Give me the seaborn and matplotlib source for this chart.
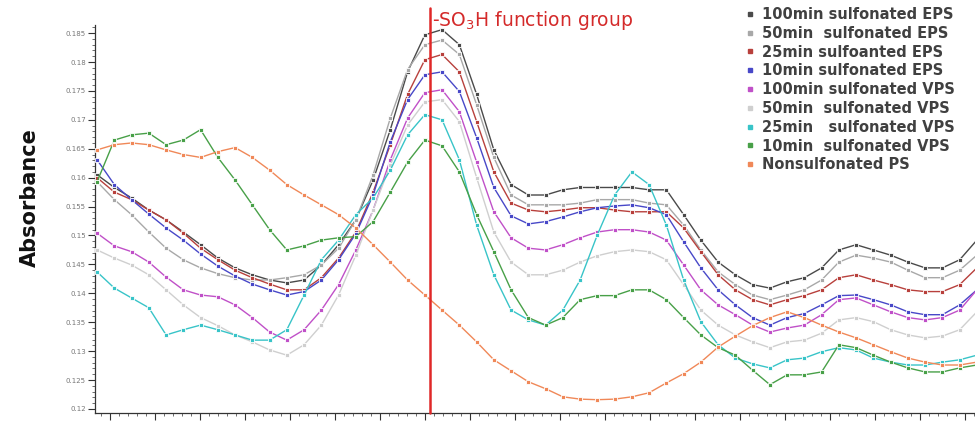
import matplotlib
matplotlib.use("Agg")
import matplotlib.pyplot as plt
from matplotlib.lines import Line2D
from matplotlib.ticker import MultipleLocator, FuncFormatter
import numpy as np
import pandas as pd
import seaborn as sns

# sampling grid of the spectrum (cm-1), one point per ~1.92 cm-1
wavenumber = np.round(998.56 + 1.9167 * np.arange(52), 2)

eps_100 = [.1605, .1583, .1565, .1544, .1527, .1506, .1484, .1461, .1444, .1432, .1423, .1418, .1423,
           .1449, .1484, .1527, .1596, .1683, .1783, .1847, .1856, .1830, .1744, .1648, .1588, .1570,
           .1570, .1579, .1583, .1583, .1583, .1583, .1579, .1579, .1536, .1492, .1454, .1432, .1415,
           .1409, .1420, .1427, .1444, .1475, .1484, .1475, .1466, .1454, .1444, .1444, .1458, .1492]
eps_50 = [.1593, .1562, .1536, .1506, .1478, .1458, .1444, .1434, .1427, .1423, .1423, .1427, .1432,
          .1449, .1478, .1527, .1605, .1703, .1787, .1830, .1838, .1813, .1726, .1635, .1570, .1553,
          .1553, .1553, .1556, .1562, .1562, .1562, .1556, .1553, .1518, .1475, .1437, .1415, .1397,
          .1389, .1397, .1406, .1423, .1454, .1466, .1461, .1454, .1440, .1427, .1427, .1440, .1466]
eps_25 = [.1600, .1575, .1562, .1544, .1527, .1504, .1478, .1458, .1440, .1427, .1416, .1406, .1406,
          .1427, .1461, .1506, .1575, .1657, .1744, .1804, .1813, .1783, .1697, .1610, .1556, .1544,
          .1541, .1544, .1548, .1548, .1544, .1541, .1541, .1541, .1513, .1472, .1432, .1406, .1389,
          .1380, .1389, .1396, .1406, .1427, .1432, .1423, .1415, .1406, .1403, .1403, .1415, .1444]
eps_10 = [.1631, .1588, .1562, .1537, .1513, .1492, .1468, .1447, .1430, .1416, .1406, .1397, .1403,
          .1423, .1458, .1503, .1570, .1662, .1735, .1778, .1783, .1749, .1669, .1583, .1534, .1520,
          .1524, .1532, .1541, .1548, .1551, .1553, .1548, .1536, .1489, .1444, .1406, .1380, .1358,
          .1345, .1358, .1365, .1380, .1396, .1397, .1389, .1380, .1368, .1363, .1363, .1380, .1406]
vps_100 = [.1504, .1482, .1472, .1454, .1428, .1406, .1397, .1394, .1380, .1358, .1333, .1319, .1337,
           .1371, .1415, .1475, .1544, .1631, .1703, .1747, .1752, .1714, .1627, .1541, .1496, .1478,
           .1475, .1484, .1496, .1506, .1510, .1510, .1506, .1492, .1449, .1406, .1380, .1363, .1345,
           .1333, .1340, .1345, .1363, .1389, .1392, .1380, .1368, .1358, .1354, .1358, .1371, .1406]
vps_50 = [.1475, .1461, .1449, .1432, .1406, .1380, .1358, .1344, .1328, .1316, .1302, .1293, .1311,
          .1345, .1397, .1466, .1544, .1622, .1691, .1731, .1735, .1697, .1600, .1506, .1454, .1432,
          .1432, .1440, .1454, .1465, .1472, .1475, .1472, .1458, .1415, .1371, .1345, .1328, .1316,
          .1306, .1316, .1319, .1331, .1354, .1358, .1351, .1337, .1328, .1323, .1326, .1337, .1368]
vps_25 = [.1437, .1409, .1392, .1375, .1328, .1337, .1345, .1337, .1328, .1319, .1319, .1337, .1397,
          .1458, .1492, .1536, .1565, .1613, .1674, .1709, .1700, .1631, .1518, .1432, .1371, .1354,
          .1345, .1371, .1423, .1501, .1570, .1610, .1588, .1518, .1423, .1351, .1311, .1288, .1278,
          .1271, .1285, .1288, .1299, .1306, .1302, .1288, .1281, .1276, .1276, .1281, .1285, .1293]
vps_10 = [.1593, .1665, .1674, .1677, .1657, .1665, .1683, .1635, .1596, .1553, .1510, .1475, .1482,
          .1492, .1496, .1498, .1524, .1575, .1627, .1665, .1655, .1610, .1536, .1472, .1406, .1358,
          .1345, .1358, .1389, .1396, .1396, .1406, .1406, .1389, .1358, .1328, .1306, .1293, .1267,
          .1242, .1259, .1259, .1264, .1311, .1306, .1293, .1281, .1271, .1264, .1264, .1271, .1276]
ps_raw = [.1648, .1657, .1660, .1657, .1648, .1640, .1635, .1645, .1652, .1635, .1613, .1588, .1570,
          .1553, .1536, .1513, .1484, .1454, .1423, .1397, .1371, .1345, .1316, .1285, .1266, .1247,
          .1235, .1221, .1217, .1216, .1217, .1221, .1228, .1245, .1261, .1281, .1307, .1326, .1344,
          .1358, .1368, .1358, .1345, .1333, .1323, .1311, .1299, .1288, .1281, .1276, .1276, .1281]

labels = ["100min sulfonated EPS", "50min  sulfonated EPS", "25min sulfoanted EPS",
          "10min sulfonated EPS", "100min sulfonated VPS", "50min  sulfonated VPS",
          "25min   sulfonated VPS", "10min  sulfonated VPS", "Nonsulfonated PS"]
series = [eps_100, eps_50, eps_25, eps_10, vps_100, vps_50, vps_25, vps_10, ps_raw]
colors = ["#4a4a4a", "#a8a8a8", "#b8403c", "#4848c8", "#c050c8", "#cfcfcf",
          "#38c4c8", "#48a048", "#f08858"]

so3h_position = 1035.6
y_ticks = [0.12, 0.125, 0.13, 0.135, 0.14, 0.145, 0.15, 0.155, 0.16, 0.165, 0.17, 0.175, 0.18, 0.185]
x_ticks = list(range(1000, 1100, 5))

df = pd.concat([pd.DataFrame({"wavenumber": wavenumber, "absorbance": vals, "sample": lab})
                for lab, vals in zip(labels, series)], ignore_index=True)

sns.set_style("ticks")
fig = plt.figure(figsize=(9.75, 4.21), dpi=100)
ax = fig.add_axes([95 / 975, 8 / 421, 880 / 975, 388 / 421])

sns.lineplot(data=df, x="wavenumber", y="absorbance", hue="sample", hue_order=labels,
             palette=colors, marker="s", markersize=3, markeredgewidth=0.6,
             linewidth=1.0, legend=False, ax=ax, zorder=3)

ax.axvline(so3h_position, ymin=0, ymax=1.044, color="#e02828", lw=1.8, clip_on=False, zorder=5)

ax.set_xlim(998.33, 1096.1)
ax.set_ylim(0.1193, 0.1864)
ax.set_yticks(y_ticks)
ax.set_xticks(x_ticks)
ax.xaxis.set_minor_locator(MultipleLocator(1))
ax.yaxis.set_minor_locator(MultipleLocator(0.001))
ax.yaxis.set_major_formatter(FuncFormatter(lambda v, p: f"{round(v, 3):g}"))
ax.tick_params(axis="both", which="major", length=5, width=0.8, color="#333333",
               labelsize=5, labelcolor="#777777", pad=1.5)
ax.tick_params(axis="x", which="major", labelsize=4.5, pad=0.8)
ax.tick_params(axis="both", which="minor", length=2.5, width=0.6, color="#555555")
ax.set_xlabel("")
ax.set_ylabel("")
for side in ["top", "right"]:
    ax.spines[side].set_visible(False)
for side in ["left", "bottom"]:
    ax.spines[side].set_color("#333333")
    ax.spines[side].set_linewidth(0.9)

fig.text(30 / 975, 1 - 198 / 421, "Absorbance", rotation=90, ha="center", va="center",
         fontsize=15, fontweight="bold", color="#111111")
fig.text(432 / 975, 1 - 20 / 421, "-SO$_3$H function group", ha="left", va="center",
         fontsize=13.5, color="#d42a2a")

handles = [Line2D([], [], color=c, marker="s", linestyle="none", markersize=3.5) for c in colors]
fig.legend(handles, labels, loc="upper left", bbox_to_anchor=(746 / 975, 1 - 7 / 421),
           frameon=False, prop={"size": 10.5, "weight": "bold"}, labelcolor="#404040",
           handlelength=0.5, handletextpad=0.6, labelspacing=0.26, borderaxespad=0, borderpad=0)

fig.savefig("out.png", dpi=100, facecolor="white")
